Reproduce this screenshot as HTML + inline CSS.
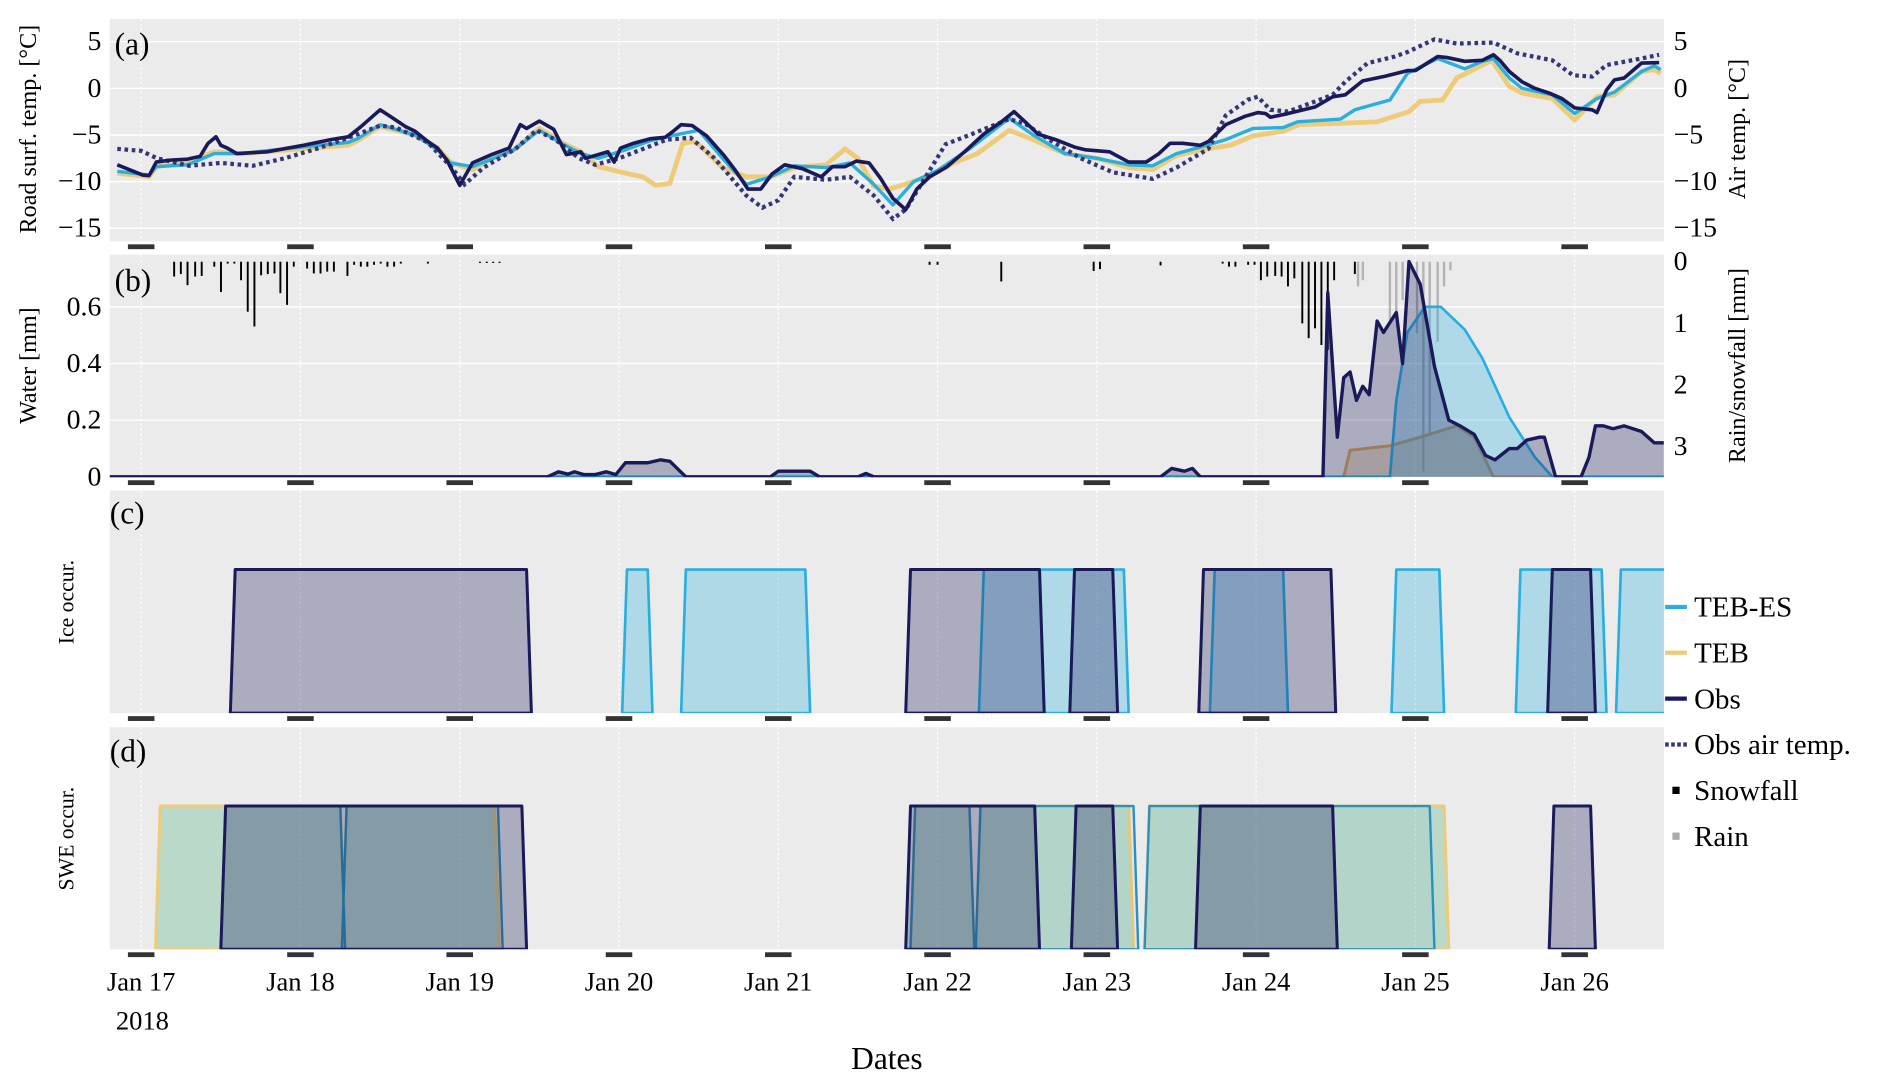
<!DOCTYPE html>
<html><head><meta charset="utf-8"><title>Road weather chart</title>
<style>
html,body{margin:0;padding:0;background:#fff;}
svg{display:block;}
svg text{font-family:"Liberation Serif","Noto Serif CJK SC","DejaVu Serif",serif;}
</style></head>
<body>
<svg id="chart" xmlns="http://www.w3.org/2000/svg" width="1892" height="1089" viewBox="0 0 1568 902.5" preserveAspectRatio="none">
<defs>
<clipPath id="clipA"><rect x="91" y="15.7" width="1288" height="184.3"/></clipPath>
<clipPath id="clipB"><rect x="91" y="211" width="1288" height="184.5"/></clipPath>
<clipPath id="clipC"><rect x="91" y="406.5" width="1288" height="184.5"/></clipPath>
<clipPath id="clipD"><rect x="91" y="602.7" width="1288" height="184"/></clipPath>
</defs>
<g id="root"></g>
<text transform="translate(30,107) rotate(-90)" text-anchor="middle" font-size="20">Road surf. temp. [°C]</text>
<text transform="translate(1446,107) rotate(-90)" text-anchor="middle" font-size="20">Air temp. [°C]</text>
<text transform="translate(30,303) rotate(-90)" text-anchor="middle" font-size="20">Water [mm]</text>
<text transform="translate(1446,303) rotate(-90)" text-anchor="middle" font-size="20">Rain/snowfall [mm]</text>
<text transform="translate(61,499) rotate(-90)" text-anchor="middle" font-size="18">Ice occur.</text>
<text transform="translate(61,695) rotate(-90)" text-anchor="middle" font-size="18">SWE occur.</text>
<text x="95" y="45" font-size="26">(a)</text>
<text x="95" y="241" font-size="26">(b)</text>
<text x="91" y="434" font-size="26">(c)</text>
<text x="91" y="631" font-size="26">(d)</text>
<text x="118" y="853" text-anchor="middle" font-size="22">2018</text>
<text x="735" y="886" text-anchor="middle" font-size="26">Dates</text>
<g font-size="24">
 <g><line x1="1380" y1="503" x2="1398" y2="503" stroke="#29aee0" stroke-width="3.5"/><text x="1404" y="511">TEB-ES</text></g>
 <g><line x1="1380" y1="541" x2="1398" y2="541" stroke="#eecb78" stroke-width="3.5"/><text x="1404" y="549">TEB</text></g>
 <g><line x1="1380" y1="579" x2="1398" y2="579" stroke="#1a1a5a" stroke-width="3.5"/><text x="1404" y="587">Obs</text></g>
 <g><line x1="1380" y1="617" x2="1400" y2="617" stroke="#35357a" stroke-width="3.5" stroke-dasharray="3,2"/><text x="1404" y="625">Obs air temp.</text></g>
 <g><rect x="1386" y="652" width="6" height="6" fill="#000"/><text x="1404" y="663">Snowfall</text></g>
 <g><rect x="1386" y="690" width="6" height="6" fill="#aaa"/><text x="1404" y="701">Rain</text></g>
</g>
</svg>
<script>
// ---- data ----
const dateLabels = ["Jan 17","Jan 18","Jan 19","Jan 20","Jan 21","Jan 22","Jan 23","Jan 24","Jan 25","Jan 26"];
const tempTicks = [5,0,-5,-10,-15];
const waterTicks = [0,0.2,0.4,0.6];
const waterTickLabels = ["0","0.2","0.4","0.6"];
const precipTicks = [0,1,2,3];

const obsT = [-0.15,-0.07,0.01,0.05,0.095,0.18,0.29,0.37,0.42,0.47,0.50,0.54,0.60,0.79,1.02,1.19,1.30,1.38,1.50,1.58,1.66,1.72,1.80,1.86,1.92,2.00,2.08,2.20,2.31,2.38,2.42,2.50,2.59,2.67,2.76,2.79,2.93,2.97,3.01,3.09,3.20,3.29,3.34,3.39,3.46,3.55,3.66,3.73,3.81,3.89,3.96,4.04,4.15,4.27,4.34,4.42,4.49,4.57,4.64,4.72,4.80,4.87,4.95,5.06,5.17,5.29,5.40,5.48,5.55,5.63,5.74,5.86,5.93,6.08,6.20,6.31,6.39,6.46,6.54,6.65,6.70,6.81,6.93,7.01,7.06,7.09,7.20,7.37,7.48,7.56,7.67,7.81,7.95,8.00,8.14,8.20,8.31,8.42,8.49,8.53,8.59,8.67,8.75,8.84,8.92,9.00,9.11,9.14,9.20,9.25,9.31,9.42,9.53];
const obsV = [-8.2,-8.75,-9.3,-9.35,-7.9,-7.7,-7.6,-7.3,-5.9,-5.2,-6.1,-6.4,-7.0,-6.8,-6.1,-5.5,-5.2,-4.1,-2.3,-3.2,-4.1,-4.6,-5.7,-6.4,-7.7,-10.4,-8.0,-7.1,-6.4,-3.9,-4.3,-3.5,-4.4,-7.1,-6.8,-7.5,-6.8,-7.9,-6.4,-5.9,-5.4,-5.25,-4.6,-3.9,-4.0,-5.1,-7.2,-8.8,-10.8,-10.8,-9.2,-8.2,-8.6,-9.5,-8.4,-8.4,-7.8,-8.0,-9.6,-11.8,-13.0,-10.8,-9.5,-8.4,-6.8,-4.9,-3.6,-2.5,-3.6,-4.9,-5.5,-6.3,-6.6,-6.8,-7.9,-7.9,-7.0,-5.9,-5.9,-6.1,-5.7,-3.9,-3.0,-2.6,-2.7,-3.1,-2.7,-2.0,-0.9,-0.7,0.8,1.3,1.9,1.9,3.4,3.3,2.9,3.0,3.6,3.0,1.8,0.7,0,-0.5,-1.1,-2.1,-2.3,-2.6,-0.2,0.9,1.1,2.7,2.75];

const tebesT = [-0.15,0.05,0.095,0.29,0.46,0.63,1.0,1.30,1.36,1.50,1.72,1.86,1.94,2.08,2.2,2.34,2.5,2.65,2.76,2.87,3.04,3.2,3.35,3.5,3.65,3.8,3.95,4.1,4.3,4.45,4.6,4.72,4.85,5.0,5.2,5.45,5.6,5.8,6.0,6.2,6.35,6.5,6.65,6.81,6.98,7.17,7.26,7.53,7.62,7.84,7.95,8.14,8.31,8.42,8.49,8.59,8.67,8.86,9.00,9.14,9.25,9.42,9.5,9.54];
const tebesV = [-8.9,-9.3,-8.4,-8.2,-7.0,-7.0,-6.3,-5.8,-5.4,-3.9,-5.0,-6.6,-8.0,-8.4,-7.6,-6.6,-4.5,-6.0,-7.0,-7.5,-6.6,-5.6,-5.0,-4.5,-7.5,-10.3,-9.5,-8.3,-8.5,-8,-10.3,-12.5,-10,-8.8,-6.5,-3.2,-5,-7,-7.5,-8.2,-8.3,-7,-6.3,-5.5,-4.3,-4.2,-3.6,-3.3,-2.3,-1.25,1.6,3.2,2.1,2.9,3.2,1.1,0,-0.7,-2.7,-1.1,-0.4,1.8,2.4,2.0];

const tebT = [-0.15,0.05,0.095,0.29,0.46,0.63,1.30,1.36,1.50,1.72,1.86,1.94,2.08,2.2,2.34,2.5,2.65,2.76,2.87,3.04,3.15,3.23,3.32,3.40,3.46,3.5,3.65,3.8,3.95,4.1,4.3,4.42,4.5,4.6,4.7,4.85,5.0,5.1,5.25,5.45,5.6,5.8,6.0,6.2,6.35,6.5,6.65,6.84,6.98,7.17,7.27,7.53,7.76,7.96,8.03,8.17,8.26,8.48,8.59,8.67,8.86,9.00,9.14,9.25,9.42,9.50,9.54];
const tebV = [-9.1,-9.5,-8.4,-7.9,-6.8,-7.0,-6.1,-5.6,-4.1,-5.0,-6.4,-7.9,-8.75,-7.5,-6.6,-4.3,-5.9,-6.8,-8.4,-9.1,-9.5,-10.4,-10.2,-5.9,-5.7,-6,-8.5,-9.5,-9.5,-8.5,-8.2,-6.5,-7.5,-10.5,-10.8,-10,-9,-8,-7,-4.5,-5.5,-7,-7.5,-8.5,-8.7,-7.2,-6.6,-6.1,-5.1,-4.6,-3.9,-3.75,-3.6,-2.5,-1.4,-1.25,1.1,3.0,0.2,-0.5,-1.1,-3.4,-0.9,-0.7,1.8,2.0,1.6];

const airT = [-0.15,0,0.1,0.3,0.5,0.7,0.9,1.1,1.3,1.5,1.6,1.8,1.95,2.03,2.15,2.35,2.48,2.6,2.75,2.85,3.0,3.3,3.45,3.6,3.8,3.9,4.0,4.1,4.3,4.45,4.6,4.72,4.8,5.05,5.2,5.45,5.55,5.7,5.9,6.1,6.35,6.5,6.7,6.81,6.95,7.01,7.09,7.2,7.48,7.56,7.70,7.87,7.95,8.12,8.26,8.49,8.64,8.86,8.99,9.11,9.2,9.42,9.53];
const airV = [-6.5,-6.7,-7.5,-8.3,-8,-8.3,-7.5,-6.5,-5.3,-4,-4.2,-5.8,-8.5,-10.3,-8.5,-6.5,-4.5,-5.5,-7.5,-8.2,-7.5,-5.5,-5.3,-7.5,-11.5,-12.8,-12,-9.5,-9.8,-9.5,-11.5,-14,-13,-6,-5,-3.3,-3.8,-5.5,-7.5,-9,-9.7,-8.5,-6.5,-2.9,-1.2,-0.9,-2.3,-2.5,-0.7,0.7,2.7,3.4,3.9,5.25,4.8,4.9,3.75,3.0,1.4,1.25,2.5,3.2,3.6];

const obsWaterT = [-0.2,2.55,2.62,2.68,2.72,2.78,2.85,2.92,2.98,3.04,3.18,3.26,3.32,3.42,3.95,4.0,4.2,4.26,4.5,4.55,4.6,6.4,6.47,6.55,6.6,6.65,7.42,7.45,7.51,7.55,7.59,7.63,7.67,7.71,7.76,7.80,7.88,7.92,7.96,8.03,8.12,8.21,8.28,8.37,8.44,8.50,8.59,8.64,8.70,8.78,8.81,8.88,9.04,9.09,9.13,9.18,9.24,9.31,9.42,9.50,9.56];
const obsWaterV = [0,0,0.018,0.01,0.018,0.008,0.008,0.018,0.008,0.05,0.05,0.06,0.055,0,0,0.02,0.02,0,0,0.012,0,0,0.03,0.02,0.03,0,0,0.65,0.14,0.35,0.37,0.27,0.32,0.29,0.55,0.51,0.58,0.40,0.76,0.68,0.39,0.20,0.18,0.15,0.076,0.06,0.10,0.10,0.13,0.14,0.14,0,0,0.07,0.18,0.18,0.17,0.18,0.16,0.12,0.12];
const tebesWaterT = [-0.2,7.84,7.88,7.95,8.06,8.16,8.31,8.42,8.59,8.75,8.86,9.56];
const tebesWaterV = [0,0,0.27,0.51,0.6,0.6,0.52,0.42,0.21,0.07,0,0];
const tebWaterT = [-0.2,7.55,7.59,7.84,8.03,8.26,8.37,8.49,9.56];
const tebWaterV = [0,0,0.094,0.11,0.14,0.18,0.14,0,0];

const snowT = [0.207,0.249,0.291,0.339,0.38,0.459,0.501,0.543,0.585,0.627,0.669,0.711,0.753,0.795,0.837,0.874,0.916,0.958,1.042,1.084,1.126,1.168,1.21,1.295,1.337,1.379,1.42,1.462,1.504,1.546,1.588,1.63,1.80,2.127,2.17,2.21,2.25,4.95,5.0,5.4,5.98,6.02,6.4,6.79,6.83,6.87,6.95,6.99,7.03,7.07,7.12,7.16,7.20,7.24,7.29,7.33,7.37,7.41,7.45,7.49,7.62];
const snowV = [0.24,0.2,0.38,0.24,0.23,0.08,0.49,0.03,0.03,0.3,0.81,1.05,0.22,0.2,0.19,0.51,0.7,0.08,0.11,0.19,0.19,0.16,0.16,0.23,0.05,0.08,0.08,0.05,0.03,0.08,0.08,0.03,0.03,0.02,0.02,0.02,0.02,0.05,0.05,0.32,0.15,0.12,0.06,0.03,0.08,0.08,0.05,0.05,0.3,0.24,0.23,0.24,0.4,0.27,1.0,1.24,1.08,1.35,1.43,0.3,0.2];
const rainT = [7.64,7.67,7.84,7.88,7.92,7.96,8.01,8.05,8.09,8.14,8.18,8.22];
const rainV = [0.4,0.3,0.95,0.9,0.62,0.05,1.16,3.4,2.8,1.3,0.4,0.14];

const iceObs = [[0.59,2.42],[4.83,5.64],[5.86,6.10],[6.67,7.47],[8.86,9.10]];
const iceTebes = [[3.05,3.18],[3.42,4.17],[5.29,6.17],[6.74,7.17],[7.88,8.15],[8.66,9.17],[9.29,9.7]];
const iceTeb = [];
const sweObs = [[0.53,2.39],[4.83,5.61],[5.87,6.10],[6.65,7.48],[8.87,9.10]];
const sweTebes = [[0.53,1.25],[1.29,2.24],[4.86,5.20],[5.27,6.23],[6.33,8.09]];
const sweTeb = [[0.12,1.25],[1.29,2.22],[4.86,5.20],[5.27,6.20],[6.33,8.18]];

// ---- scales ----
const X0=91, X1=1379;
const xT = t => 117 + 132*t;
const yA = v => 73.2 - 7.73*v;
const yB = w => 395.2 - 234.8*w;
const yBp = p => 216.9 + 51.1*p;
const yC = o => 591 - 119*o;
const yD = o => 786.7 - 118.7*o;
const NS="http://www.w3.org/2000/svg";
const root=document.getElementById('root');
function mk(tag, attrs, parent){const e=document.createElementNS(NS,tag);for(const k in attrs)e.setAttribute(k,attrs[k]);(parent||root).appendChild(e);return e;}

const panels=[{id:'a',top:15.7,bot:200},{id:'b',top:211,bot:395.5},{id:'c',top:406.5,bot:591},{id:'d',top:602.7,bot:786.7}];
panels.forEach(p=>{
  const bg=mk('rect',{x:X0,y:p.top,width:X1-X0,height:p.bot-p.top,fill:'#ebebeb'});
  
  
  dateLabels.forEach((d,i)=>{
    const g=mk('line',{x1:xT(i),x2:xT(i),y1:p.top,y2:p.bot,stroke:'#fff','stroke-width':1,'stroke-dasharray':'2,2'});
    
    
    const r=mk('rect',{x:xT(i)-11,y:p.bot+2.5,width:22,height:4,fill:'#333'});
    
    
  });
});
tempTicks.forEach(v=>{
  const g=mk('line',{x1:X0,x2:X1,y1:yA(v),y2:yA(v),stroke:'#fff','stroke-width':1.2});
  
  
  const lbl=(v<0?'\u2212'+(-v):String(v));
  const tl=mk('text',{x:84,y:yA(v)+7,'text-anchor':'end','font-size':23});tl.textContent=lbl;
  
  
  const tr=mk('text',{x:1387,y:yA(v)+7,'font-size':23});tr.textContent=lbl;
  
  
});
waterTicks.forEach((w,i)=>{
  const g=mk('line',{x1:X0,x2:X1,y1:yB(w),y2:yB(w),stroke:'#fff','stroke-width':1.2});
  
  
  const tl=mk('text',{x:84,y:yB(w)+7,'text-anchor':'end','font-size':23});tl.textContent=waterTickLabels[i];
  
  
});
precipTicks.forEach(p=>{
  const tr=mk('text',{x:1387,y:yBp(p)+7,'font-size':23});tr.textContent=String(p);
  
  
});
dateLabels.forEach((d,i)=>{
  const t=mk('text',{x:xT(i),y:821,'text-anchor':'middle','font-size':22});t.textContent=d;
  
  
});

function pts(T,V,fy){return T.map((t,i)=>xT(t).toFixed(1)+','+fy(V[i]).toFixed(1)).join(' ');}
const gA=mk('g',{'clip-path':'url(#clipA)'});


let l;
l=mk('polyline',{points:pts(tebT,tebV,yA),fill:'none',stroke:'#eecb78','stroke-width':4,'stroke-linejoin':'round'},gA);


l=mk('polyline',{points:pts(tebesT,tebesV,yA),fill:'none',stroke:'#29aee0','stroke-width':2.8,'stroke-linejoin':'round'},gA);


l=mk('polyline',{points:pts(airT,airV,yA),fill:'none',stroke:'#35357a','stroke-width':3.5,'stroke-dasharray':'3,3'},gA);


l=mk('polyline',{points:pts(obsT,obsV,yA),fill:'none',stroke:'#1a1a5a','stroke-width':3,'stroke-linejoin':'round'},gA);



const gB=mk('g',{'clip-path':'url(#clipB)'});


function area(T,V,fy,col,name,g,sw){
  const p=pts(T,V,fy);
  const a=mk('polygon',{points:xT(T[0])+','+fy(0)+' '+p+' '+xT(T[T.length-1])+','+fy(0),fill:col,'fill-opacity':0.3,stroke:'none'},g);
  
  
  const ln=mk('polyline',{points:p,fill:'none',stroke:col,'stroke-width':sw,'stroke-linejoin':'round'},g);
  
  
}
snowT.forEach((t,i)=>{
  const b=mk('rect',{x:xT(t)-0.8,y:yBp(0),width:1.6,height:yBp(snowV[i])-yBp(0),fill:'#000'},gB);
  
  
});
rainT.forEach((t,i)=>{
  const b=mk('rect',{x:xT(t)-1,y:yBp(0),width:2,height:yBp(rainV[i])-yBp(0),fill:'#aaa','fill-opacity':0.85},gB);
  
  
});
area(tebWaterT,tebWaterV,yB,'#d4a860','teb-water',gB,2.5);
area(tebesWaterT,tebesWaterV,yB,'#29aee0','teb-es-water',gB,2.2);
area(obsWaterT,obsWaterV,yB,'#1a1a5a','obs-water',gB,2.8);

function occ(intervals,fy,col,op,stroke,name,g,sw){
  const ramp=0.03;
  intervals.forEach(iv=>{
    const p=[[iv[0]-ramp,0],[iv[0],1],[iv[1],1],[iv[1]+ramp,0]].map(q=>xT(q[0]).toFixed(1)+','+fy(q[1]).toFixed(1)).join(' ');
    const a=mk('polygon',{points:p,fill:col,'fill-opacity':op,stroke:stroke,'stroke-width':sw,'stroke-linejoin':'round'},g);
    
    
  });
}
const gC=mk('g',{'clip-path':'url(#clipC)'});


occ(iceTeb,yC,'#eecb78',0.3,'#eecb78','teb-ice-occurrence',gC,2.5);
occ(iceTebes,yC,'#29aee0',0.3,'#29aee0','teb-es-ice-occurrence',gC,2.2);
occ(iceObs,yC,'#1a1a5a',0.3,'#1a1a5a','obs-ice-occurrence',gC,2.5);
const gD=mk('g',{'clip-path':'url(#clipD)'});


occ(sweTeb,yD,'#4baf7a',0.3,'#eecb78','teb-swe-occurrence',gD,2.5);
occ(sweTebes,yD,'#2a90c0',0.05,'#2a90c0','teb-es-swe-occurrence',gD,2);
occ(sweObs,yD,'#1a1a5a',0.3,'#1a1a5a','obs-swe-occurrence',gD,2.5);
</script>
</body></html>
